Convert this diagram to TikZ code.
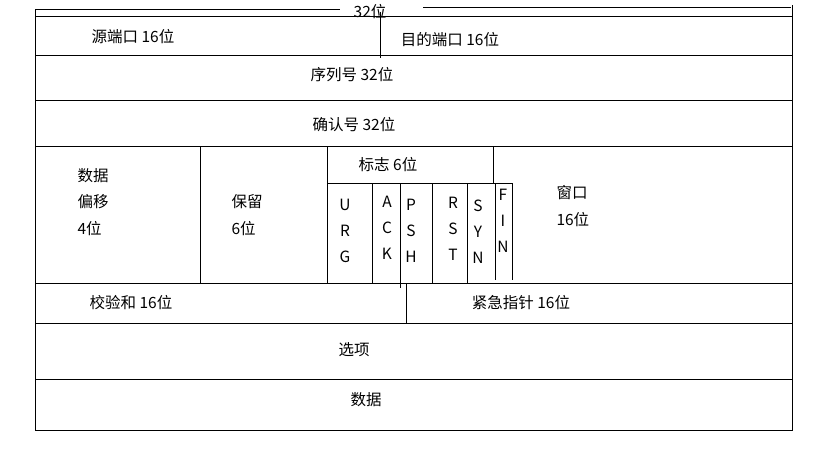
\documentclass[tikz,border=0pt]{standalone}
\usepackage{fontspec}
\setmainfont{Noto Sans CJK SC}
\tikzset{
  field/.style={font=\fontsize{15.5}{17}\selectfont, inner sep=0pt},
  stack/.style={font=\fontsize{15.5}{26.5}\selectfont, inner sep=0pt, align=left, anchor=west},
  flagcol/.style={font=\fontsize{15.5}{26}\selectfont, inner sep=0pt, align=center},
  rule/.style={line width=1pt}
}
\begin{document}
\begin{tikzpicture}[x=1pt,y=-1pt,rule]
    \useasboundingbox[fill=white] (0,0) rectangle (819,460);

    % width marker on top
    \draw (35,10) -- (340,10);
    \draw (423,8) -- (791,8);
    \node[field] (width) at (370,12) {32位};

    % frame and rows
    \draw (35,10) -- (35,430) -- (792,430) -- (792,5);
    \draw (35,17) -- (792,17);
    \foreach \y in {56,100,146,283,323,379}
        \draw (35,\y) -- (792,\y);

    % row 1
    \draw (380,12) -- (380,58);
    \node[field] (srcport) at (133,37) {源端口 16位};
    \node[field] (dstport) at (450,40) {目的端口 16位};

    % rows 2 and 3
    \node[field] (seq) at (352,75) {序列号 32位};
    \node[field] (ack) at (354,125) {确认号 32位};

    % row 4
    \draw (200,146) -- (200,283);
    \draw (327,146) -- (327,283);
    \draw (327,183) -- (512,183);
    \draw (493,146) -- (493,183);
    \foreach \x in {372,432,467}
        \draw (\x,183) -- (\x,283);
    \draw (400,183) -- (400,288);
    \draw (495,183) -- (495,280);
    \draw (512,183) -- (512,280);

    \node[stack] (offset) at (77,202) {数据\\偏移\\4位};
    \node[stack] (resv) at (231,215) {保留\\6位};
    \node[field] (flags) at (388,165) {标志 6位};
    \node[flagcol] (urg) at (345,231) {U\\R\\G};
    \node[flagcol] (ackf) at (387,228) {A\\C\\K};
    \node[flagcol] (psh) at (411,231) {P\\S\\H};
    \node[flagcol] (rst) at (453,229) {R\\S\\T};
    \node[flagcol] (syn) at (478,232) {S\\Y\\N};
    \node[flagcol] (fin) at (503,221) {F\\I\\N};
    \node[stack] (win) at (556,206) {窗口\\16位};

    % row 5
    \draw (406,283) -- (406,323);
    \node[field] (chksum) at (131,303) {校验和 16位};
    \node[field] (urgptr) at (521,303) {紧急指针 16位};

    % rows 6 and 7
    \node[field] (opts) at (354,350) {选项};
    \node[field] (data) at (366,400) {数据};
\end{tikzpicture}
\end{document}
